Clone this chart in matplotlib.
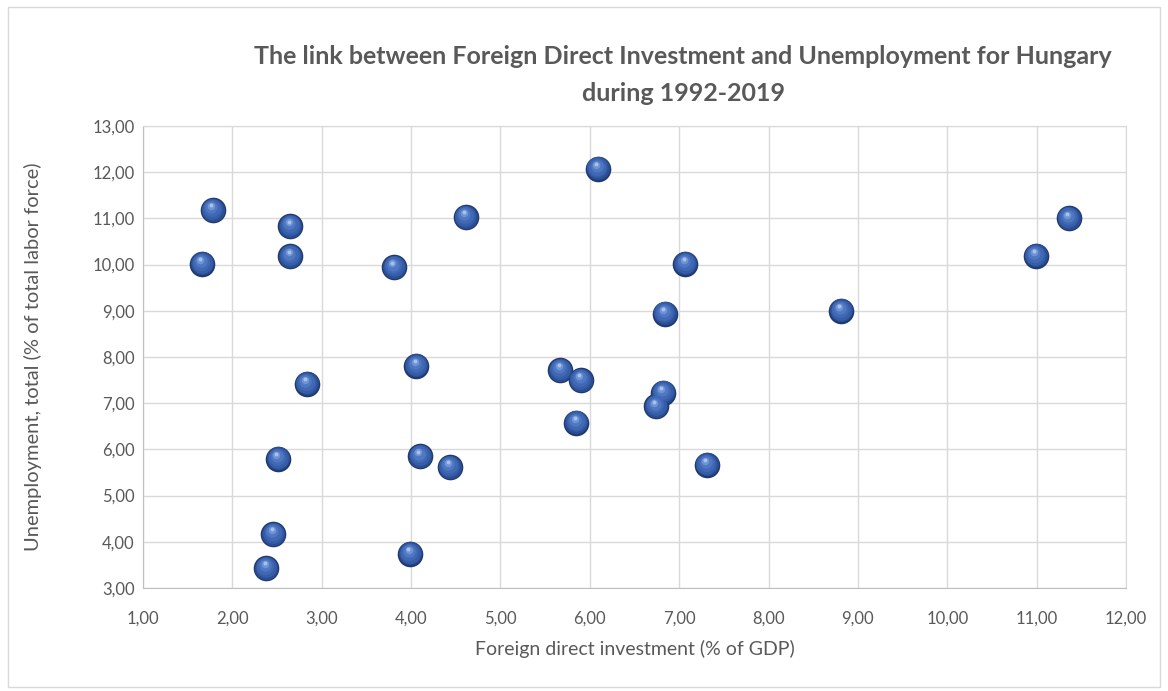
import matplotlib.pyplot as plt
from matplotlib.patches import Rectangle
from matplotlib.ticker import FuncFormatter, MultipleLocator
from matplotlib.transforms import offset_copy

# FDI (% of GDP) vs unemployment (% of labor force), Hungary 1992-2019
fdi = [1.78, 1.66, 2.65, 2.65, 3.81, 4.61, 4.06, 2.83, 5.67, 5.90, 5.85,
       2.51, 4.10, 4.43, 2.46, 2.38, 3.99, 6.09, 11.36, 10.99, 7.07, 6.84,
       8.81, 6.82, 6.74, 7.31]
unemp = [11.18, 10.02, 10.83, 10.18, 9.94, 11.03, 7.81, 7.42, 7.72, 7.50, 6.58,
         5.80, 5.85, 5.62, 4.17, 3.43, 3.74, 12.08, 11.00, 10.19, 10.02, 8.94,
         9.00, 7.23, 6.93, 5.67]

title = 'The link between Foreign Direct Investment and Unemployment for Hungary\nduring 1992-2019'
xlabel = 'Foreign direct investment (% of GDP)'
ylabel = 'Unemployment, total (% of total labor force)'

grey = '#595959'
plt.rcParams['font.family'] = ['Lato', 'DejaVu Sans']

fig = plt.figure(figsize=(11.68, 6.91), dpi=100)
ax = fig.add_axes([143/1168, 1-588/691, (1126-143)/1168, (588-126)/691])

# outer chart border
fig.patches.append(Rectangle((8/1168, 4/691), 1152/1168, 680/691, transform=fig.transFigure,
                             fill=False, edgecolor='#d9d9d9', linewidth=1))

# fake 3D spheres: stacked circles getting lighter towards the top-left
ax.scatter(fdi, unemp, s=340, color='#1e3a70', zorder=3, linewidths=0)
layers = [(280, '#2b4d91', 0, 0.3), (220, '#365ea8', -0.3, 0.8), (150, '#4068b5', -0.6, 1.4),
          (80, '#4f78c2', -0.9, 2.0), (30, '#6f93d3', -1.2, 2.8), (8, '#a9c0ea', -1.3, 3.4)]
for size, col, dx, dy in layers:
    tr = offset_copy(ax.transData, fig=fig, x=dx, y=dy, units='points')
    ax.scatter(fdi, unemp, s=size, color=col, zorder=4, linewidths=0, transform=tr)

ax.set_xlim(1, 12)
ax.set_ylim(3, 13)
ax.xaxis.set_major_locator(MultipleLocator(1))
ax.yaxis.set_major_locator(MultipleLocator(1))
fmt = FuncFormatter(lambda v, p: f'{v:.2f}'.replace('.', ','))
ax.xaxis.set_major_formatter(fmt)
ax.yaxis.set_major_formatter(fmt)

ax.grid(True, color='#d9d9d9', linewidth=1)
ax.set_axisbelow(True)
for s in ax.spines.values():
    s.set_color('#d9d9d9')
ax.spines['bottom'].set_color('#bfbfbf')
ax.spines['left'].set_color('#bfbfbf')
ax.tick_params(length=0, labelsize=12, labelcolor=grey)
ax.tick_params(axis='x', pad=16)
ax.tick_params(axis='y', pad=6)

ax.set_xlabel(xlabel, fontsize=14, color=grey, labelpad=10)
ax.set_ylabel(ylabel, fontsize=14.5, color=grey, labelpad=36)
fig.text(683/1168, 1-75/691, title, ha='center', va='center', fontsize=18, fontweight='bold',
         color=grey, linespacing=1.7)

fig.savefig('out.png', dpi=100)
